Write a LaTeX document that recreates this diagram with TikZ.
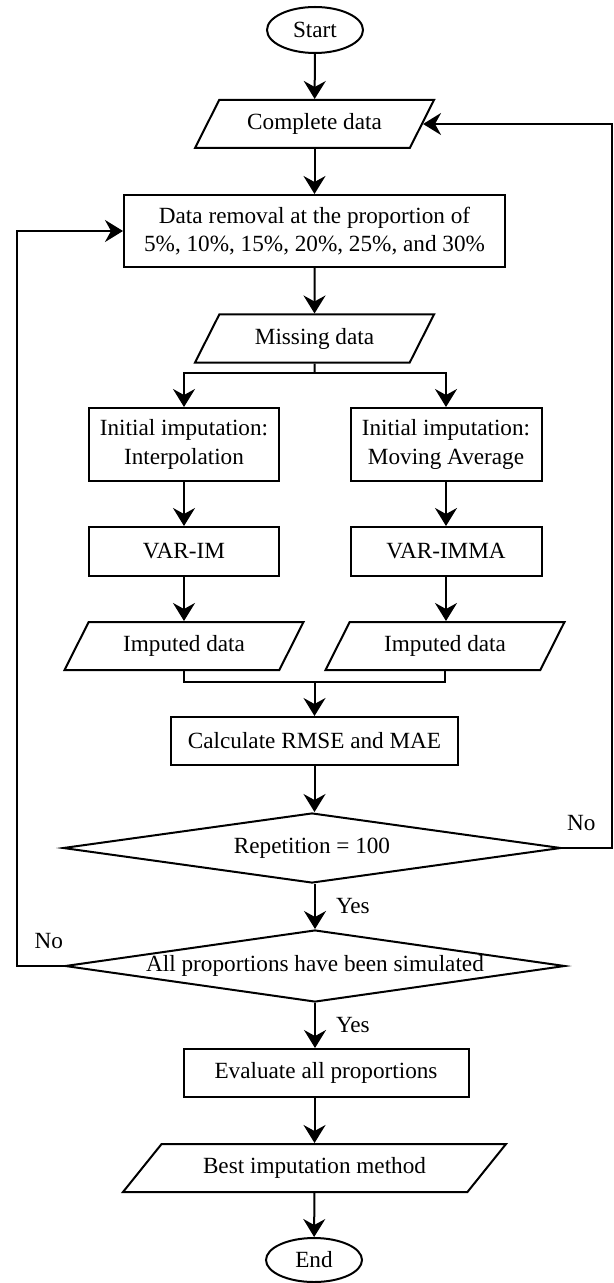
\documentclass[tikz,border=0pt]{standalone}
\usepackage{fontspec}
\setmainfont{Liberation Serif}
\usetikzlibrary{shapes.geometric,arrows.meta}

\tikzset{
  term/.style={ellipse,draw,line width=1pt,minimum width=48pt,minimum height=23pt,inner sep=0pt},
  proc/.style={rectangle,draw,line width=1pt,align=center,inner sep=0pt},
  io/.style={trapezium,trapezium left angle=41,trapezium right angle=139,trapezium stretches body,
    draw,line width=1pt,inner sep=0pt,minimum width=119.5pt,minimum height=24pt},
  decide/.style={diamond,draw,line width=1pt,inner sep=0pt},
  flow/.style={-{Stealth[length=9pt,width=11pt,inset=3pt]},line width=1pt},
  link/.style={line width=1pt},
  lab/.style={inner sep=0pt}
}

\begin{document}
\begin{tikzpicture}[x=0.5pt,y=-0.5pt,font=\fontsize{11.6}{14.2}\selectfont,line join=miter]
	\useasboundingbox (0,0) rectangle (614,1283);
	% main column
	\node[term] (start) at (315,30) {Start};
	\node[io] (cd) at (314.5,124) {Complete data};
	\node[proc,minimum width=190.5pt,minimum height=36pt] (rem) at (314.5,231) {Data removal at the proportion of\\5\%, 10\%, 15\%, 20\%, 25\%, and 30\%};
	\node[io] (md) at (314.5,338.5) {Missing data};
	% two branches
	\node[proc,minimum width=95pt,minimum height=36.5pt] (ii) at (184,444.5) {Initial imputation:\\Interpolation};
	\node[proc,minimum width=95.5pt,minimum height=36.5pt] (im) at (446,444.5) {Initial imputation:\\Moving Average};
	\node[proc,minimum width=95pt,minimum height=24.5pt] (vim) at (184,551.5) {VAR-IM};
	\node[proc,minimum width=95.5pt,minimum height=24.5pt] (vimma) at (446,551.5) {VAR-IMMA};
	\node[io] (idl) at (184,646) {Imputed data};
	\node[io] (idr) at (445,646) {Imputed data};
	% evaluation
	\node[proc,minimum width=143.5pt,minimum height=24pt] (calc) at (314.5,741) {Calculate RMSE and MAE};
	\node[decide,minimum width=249pt,minimum height=35pt] (rep) at (312,848) {\makebox[0pt]{Repetition = 100}};
	\node[decide,minimum width=250pt,minimum height=36pt] (all) at (315,966) {\makebox[0pt]{All proportions have been simulated}};
	\node[proc,minimum width=142.5pt,minimum height=24pt] (eval) at (326,1073) {Evaluate all proportions};
	\node[io,trapezium left angle=28.6,trapezium right angle=151.4,minimum width=191.5pt] (best) at (314.5,1168) {Best imputation method};
	\node[term,minimum height=22pt] (end) at (314,1260) {End};
	\coordinate (split) at (314.5,373);
	\coordinate (merge) at (314.5,682);
	\coordinate (rloop) at (612,0);
	\coordinate (lloop) at (17,0);
	% connectors
	\draw[flow] (start) -- (cd);
	\draw[flow] (cd) -- (rem);
	\draw[flow] (rem) -- (md);
	\draw[link] (md.south) -- (split);
	\draw[flow] (split) -| (ii);
	\draw[flow] (split) -| (im);
	\draw[flow] (ii) -- (vim);
	\draw[flow] (im) -- (vimma);
	\draw[flow] (vim) -- (vim.south |- idl.north);
	\draw[flow] (vimma) -- (vimma.south |- idr.north);
	\draw[link] (idl.south) |- (merge) -| (idr.south);
	\draw[flow] (merge) -- (calc);
	\draw[flow] (calc) -- (calc.south |- rep.north);
	\draw[flow] (rep.south -| all.north) -- node[lab,right,xshift=10pt] {Yes} (all.north);
	\draw[flow] (all.south) -- node[lab,right,xshift=10pt] {Yes} (all.south |- eval.north);
	\draw[flow] (eval.south -| best.north) -- (best.north);
	\draw[flow] (best) -- (end);
	% loops back
	\draw[flow] (rep.east) node[lab,anchor=south west,xshift=2pt,yshift=8pt] {No} -- (rep.east -| rloop) |- (cd.east);
	\draw[flow] (all.west) node[lab,anchor=south east,yshift=8pt] {No} -- (all.west -| lloop) |- (rem.west);
\end{tikzpicture}
\end{document}
